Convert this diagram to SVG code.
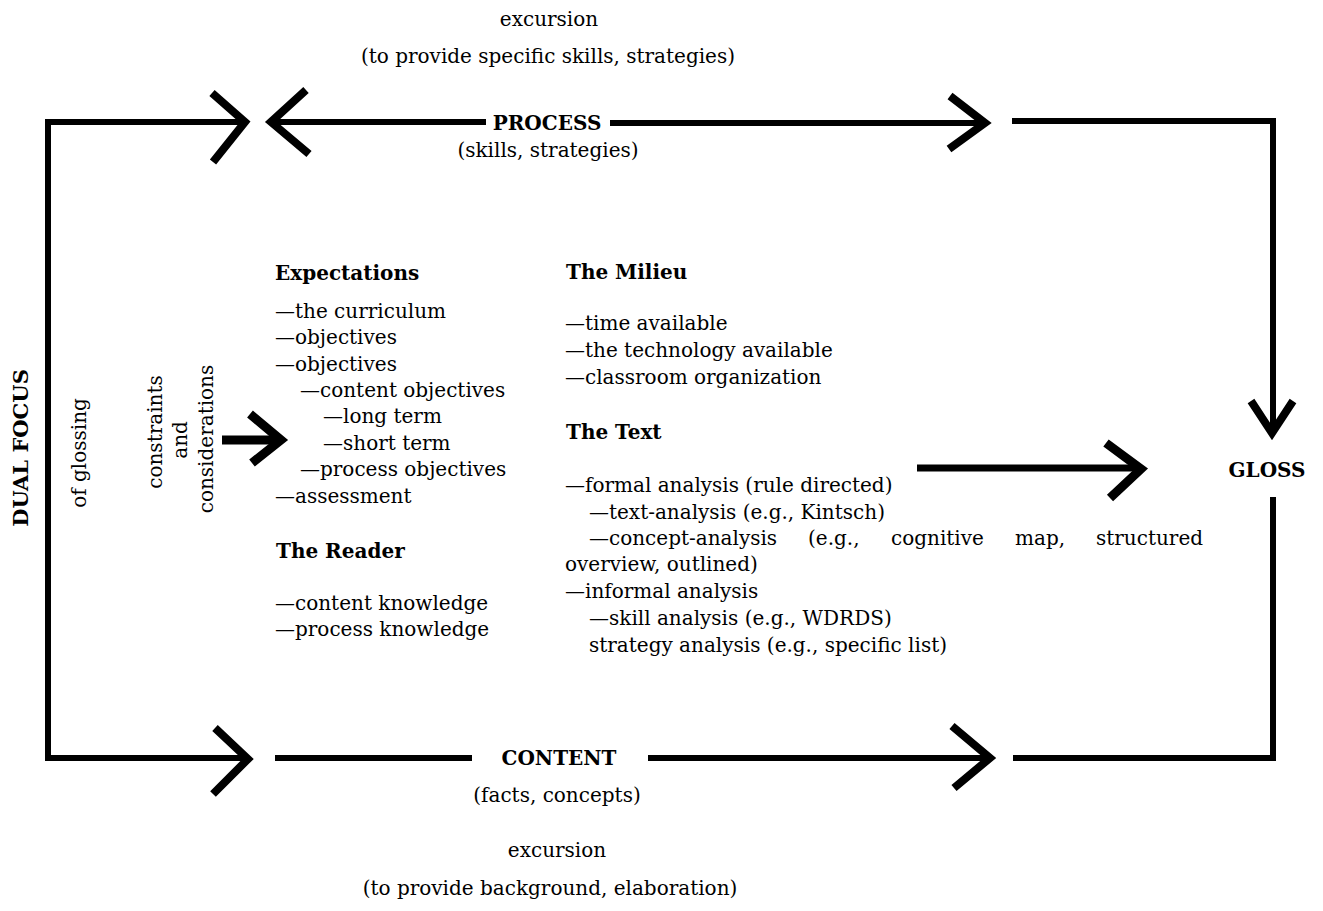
<svg xmlns="http://www.w3.org/2000/svg" width="1323" height="911" viewBox="0 0 1323 911">
<style>
  text { font-family: "DejaVu Serif", "Liberation Serif", serif; font-size: 20px; fill: #000; }
  .b { font-weight: bold; }
  .c { text-anchor: middle; }
  .ln { fill: none; stroke: #000; stroke-width: 6; stroke-linejoin: miter; stroke-linecap: butt; }
  .chev { fill: none; stroke: #000; stroke-width: 8; stroke-linejoin: miter; stroke-miterlimit: 10; stroke-linecap: butt; }
  .thick { fill: none; stroke: #000; stroke-width: 9; }
</style>
<rect width="1323" height="911" fill="#fff"/>

<g id="connectors">
  <path class="ln" d="M241,122 H48 V758 H244"/>
  <path class="chev" d="M212,93 L245,122 L213,162"/>
  <path class="chev" d="M306,90 L271,122 L309,154"/>
  <path class="ln" d="M272,122 H486"/>
  <path class="ln" d="M610,123 H982"/>
  <path class="chev" d="M950,96 L985,123 L949,149"/>
  <path class="ln" d="M1012,121 H1273 V430"/>
  <path class="chev" d="M1251,401 L1272,433 L1293,401"/>
  <path class="ln" d="M1273,497 V758 H1013"/>
  <path class="ln" d="M648,758 H987"/>
  <path class="chev" d="M952,726 L990,758 L954,788"/>
  <path class="ln" d="M275,758 H472"/>
  <path class="chev" d="M215,728 L248,759 L213,794"/>
  <path class="thick" d="M222,440 H274"/>
  <path class="chev" style="stroke-width:9" d="M250,414 L281,440 L252,463"/>
  <path class="ln" style="stroke-width:7" d="M917,468 H1138"/>
  <path class="chev" style="stroke-width:9" d="M1106,443 L1141,469 L1110,498"/>
</g>

<g id="process">
  <text class="c" x="549" y="26">excursion</text>
  <text class="c" x="548" y="63">(to provide specific skills, strategies)</text>
  <text class="b c" x="547" y="130">PROCESS</text>
  <text class="c" x="548" y="157">(skills, strategies)</text>
</g>

<g id="content">
  <text class="b c" x="559" y="765">CONTENT</text>
  <text class="c" x="557" y="802">(facts, concepts)</text>
  <text class="c" x="557" y="857">excursion</text>
  <text class="c" x="550" y="895">(to provide background, elaboration)</text>
</g>

<g id="gloss">
  <text class="b c" x="1267" y="477">GLOSS</text>
</g>

<g id="dual-focus">
  <text class="b c" style="font-size:21px" transform="translate(20,448) rotate(-90)" y="8">DUAL FOCUS</text>
  <text class="c" transform="translate(80,453) rotate(-90)" y="6">of glossing</text>
</g>

<g id="constraints">
  <text class="c" transform="translate(155,432) rotate(-90)" y="7">constraints</text>
  <text class="c" transform="translate(180,440) rotate(-90)" y="7">and</text>
  <text class="c" transform="translate(206,439) rotate(-90)" y="7">considerations</text>
</g>

<g id="expectations">
  <text class="b" x="275" y="280">Expectations</text>
  <text x="275" y="318">—the curriculum</text>
  <text x="275" y="344">—objectives</text>
  <text x="275" y="371">—objectives</text>
  <text x="300" y="397">—content objectives</text>
  <text x="323" y="423">—long term</text>
  <text x="323" y="450">—short term</text>
  <text x="300" y="476">—process objectives</text>
  <text x="275" y="503">—assessment</text>
</g>

<g id="reader">
  <text class="b" x="276" y="558">The Reader</text>
  <text x="275" y="610">—content knowledge</text>
  <text x="275" y="636">—process knowledge</text>
</g>

<g id="milieu">
  <text class="b" x="566" y="279">The Milieu</text>
  <text x="565" y="330">—time available</text>
  <text x="565" y="357">—the technology available</text>
  <text x="565" y="384">—classroom organization</text>
</g>

<g id="text">
  <text class="b" x="566" y="439">The Text</text>
  <text x="565" y="492">—formal analysis (rule directed)</text>
  <text x="589" y="519">—text-analysis (e.g., Kintsch)</text>
  <text y="545"><tspan x="589">—concept-analysis</tspan><tspan x="808">(e.g.,</tspan><tspan x="891">cognitive</tspan><tspan x="1015">map,</tspan><tspan x="1096">structured</tspan></text>
  <text x="565" y="571">overview, outlined)</text>
  <text x="565" y="598">—informal analysis</text>
  <text x="589" y="625">—skill analysis (e.g., WDRDS)</text>
  <text x="589" y="652">strategy analysis (e.g., specific list)</text>
</g>
</svg>
